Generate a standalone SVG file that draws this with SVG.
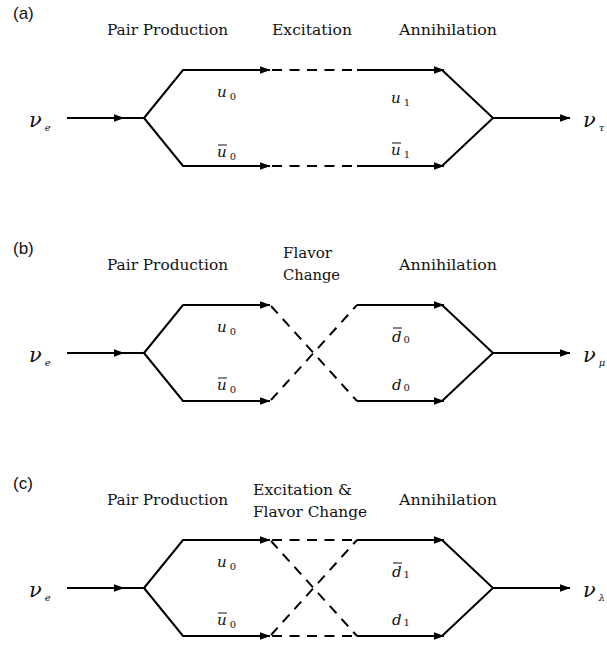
<svg xmlns="http://www.w3.org/2000/svg" width="607" height="646" viewBox="0 0 607 646">
<style>
.ln{fill:none;stroke:#000;stroke-width:2}
.dash{fill:none;stroke:#000;stroke-width:2;stroke-dasharray:10 7.5}
.arr{marker-end:url(#ah)}
.hdr{font-family:'DejaVu Serif','Liberation Serif',serif;font-size:15px;fill:#111}
.pl{font-family:'Liberation Sans',Arial,sans-serif;font-size:17px;fill:#111}
.nu{font-family:'DejaVu Serif',serif;font-style:italic;font-size:21px;fill:#111}
.sub{font-style:italic;font-size:10px}
.q{font-family:'DejaVu Serif',serif;font-style:italic;font-size:15px;fill:#111}
.qs{font-style:normal;font-size:10px}
.ob{stroke:#111;stroke-width:1}
</style>
<defs>
<marker id="ah" markerUnits="userSpaceOnUse" markerWidth="11" markerHeight="8" refX="10" refY="4" orient="auto">
<path d="M0,0.3 L10.5,4 L0,7.7 z" fill="#000"/>
</marker>
</defs>
<rect fill="#fff" x="0" y="0" width="607" height="646"/>

<!-- Panel (a) -->
<g id="panel-a">
<g id="a-labels">
<text class="pl" x="13" y="19">(a)</text>
<text class="hdr" x="107" y="35" textLength="121" lengthAdjust="spacingAndGlyphs">Pair Production</text>
<text class="hdr" x="272" y="35" textLength="80" lengthAdjust="spacingAndGlyphs">Excitation</text>
<text class="hdr" x="399" y="35" textLength="98" lengthAdjust="spacingAndGlyphs">Annihilation</text>
</g>
<g id="a-nu-in"><text class="nu" x="29" y="127">ν<tspan class="sub" dx="3" dy="4">e</tspan></text></g>
<g id="a-nu-out"><text class="nu" x="583" y="127">ν<tspan class="sub" dx="3" dy="4">τ</tspan></text></g>
<g id="a-u0"><text class="q" x="217" y="97">u<tspan class="qs" dx="3" dy="3">0</tspan></text></g>
<g id="a-u0bar"><line class="ob" x1="218" y1="145" x2="227" y2="145"/><text class="q" x="217" y="157">u<tspan class="qs" dx="3" dy="3">0</tspan></text></g>
<g id="a-u1"><text class="q" x="391" y="103">u<tspan class="qs" dx="3" dy="3">1</tspan></text></g>
<g id="a-u1bar"><line class="ob" x1="392" y1="143" x2="401" y2="143"/><text class="q" x="391" y="155">u<tspan class="qs" dx="3" dy="3">1</tspan></text></g>
<g id="a-connectors">
<path class="ln arr" d="M67,118 H124"/>
<path class="ln" d="M120,118 H144"/>
<path class="ln arr" d="M144,118 L183,70 H270"/>
<path class="ln arr" d="M144,118 L183,166 H270"/>
<path class="dash" d="M272,70 H357"/>
<path class="dash" d="M272,166 H357"/>
<path class="ln arr" d="M357,70 H444"/>
<path class="ln arr" d="M357,166 H444"/>
<path class="ln" d="M442,70 L493,118 L442,166"/>
<path class="ln arr" d="M493,118 H570"/>
</g>
</g>

<!-- Panel (b) -->
<g id="panel-b" transform="translate(0,235)">
<g id="b-labels">
<text class="pl" x="13" y="19">(b)</text>
<text class="hdr" x="107" y="35" textLength="121" lengthAdjust="spacingAndGlyphs">Pair Production</text>
<text class="hdr" x="283" y="23" textLength="49" lengthAdjust="spacingAndGlyphs">Flavor</text>
<text class="hdr" x="283" y="45" textLength="57" lengthAdjust="spacingAndGlyphs">Change</text>
<text class="hdr" x="399" y="35" textLength="98" lengthAdjust="spacingAndGlyphs">Annihilation</text>
</g>
<g id="b-nu-in"><text class="nu" x="29" y="127">ν<tspan class="sub" dx="3" dy="4">e</tspan></text></g>
<g id="b-nu-out"><text class="nu" x="583" y="127">ν<tspan class="sub" dx="3" dy="4">μ</tspan></text></g>
<g id="b-u0"><text class="q" x="217" y="97">u<tspan class="qs" dx="3" dy="3">0</tspan></text></g>
<g id="b-u0bar"><line class="ob" x1="218" y1="143" x2="227" y2="143"/><text class="q" x="217" y="155">u<tspan class="qs" dx="3" dy="3">0</tspan></text></g>
<g id="b-d0bar"><line class="ob" x1="393" y1="93" x2="402" y2="93"/><text class="q" x="392" y="107">d<tspan class="qs" dx="2" dy="1">0</tspan></text></g>
<g id="b-d0"><text class="q" x="392" y="155">d<tspan class="qs" dx="2" dy="1">0</tspan></text></g>
<g id="b-connectors">
<path class="ln arr" d="M67,118 H124"/>
<path class="ln" d="M120,118 H144"/>
<path class="ln arr" d="M144,118 L183,70 H270"/>
<path class="ln arr" d="M144,118 L183,166 H270"/>
<path class="dash" d="M271,71 L357,166"/>
<path class="dash" d="M271,165 L357,70"/>
<path class="ln arr" d="M357,70 H444"/>
<path class="ln arr" d="M357,166 H444"/>
<path class="ln" d="M442,70 L493,118 L442,166"/>
<path class="ln arr" d="M493,118 H570"/>
</g>
</g>

<!-- Panel (c) -->
<g id="panel-c" transform="translate(0,470)">
<g id="c-labels">
<text class="pl" x="13" y="19">(c)</text>
<text class="hdr" x="107" y="35" textLength="121" lengthAdjust="spacingAndGlyphs">Pair Production</text>
<text class="hdr" x="253" y="25" textLength="99" lengthAdjust="spacingAndGlyphs">Excitation &amp;</text>
<text class="hdr" x="253" y="47" textLength="114" lengthAdjust="spacingAndGlyphs">Flavor Change</text>
<text class="hdr" x="399" y="35" textLength="98" lengthAdjust="spacingAndGlyphs">Annihilation</text>
</g>
<g id="c-nu-in"><text class="nu" x="29" y="127">ν<tspan class="sub" dx="3" dy="4">e</tspan></text></g>
<g id="c-nu-out"><text class="nu" x="583" y="127">ν<tspan class="sub" dx="3" dy="4">λ</tspan></text></g>
<g id="c-u0"><text class="q" x="217" y="97">u<tspan class="qs" dx="3" dy="3">0</tspan></text></g>
<g id="c-u0bar"><line class="ob" x1="218" y1="143" x2="227" y2="143"/><text class="q" x="217" y="155">u<tspan class="qs" dx="3" dy="3">0</tspan></text></g>
<g id="c-d1bar"><line class="ob" x1="393" y1="93" x2="402" y2="93"/><text class="q" x="392" y="107">d<tspan class="qs" dx="2" dy="1">1</tspan></text></g>
<g id="c-d1"><text class="q" x="392" y="155">d<tspan class="qs" dx="2" dy="1">1</tspan></text></g>
<g id="c-connectors">
<path class="ln arr" d="M67,118 H124"/>
<path class="ln" d="M120,118 H144"/>
<path class="ln arr" d="M144,118 L183,70 H270"/>
<path class="ln arr" d="M144,118 L183,166 H270"/>
<path class="dash" d="M272,70 H357"/>
<path class="dash" d="M272,166 H357"/>
<path class="dash" d="M271,71 L357,166"/>
<path class="dash" d="M271,165 L357,70"/>
<path class="ln arr" d="M357,70 H444"/>
<path class="ln arr" d="M357,166 H444"/>
<path class="ln" d="M442,70 L493,118 L442,166"/>
<path class="ln arr" d="M493,118 H570"/>
</g>
</g>
</svg>
